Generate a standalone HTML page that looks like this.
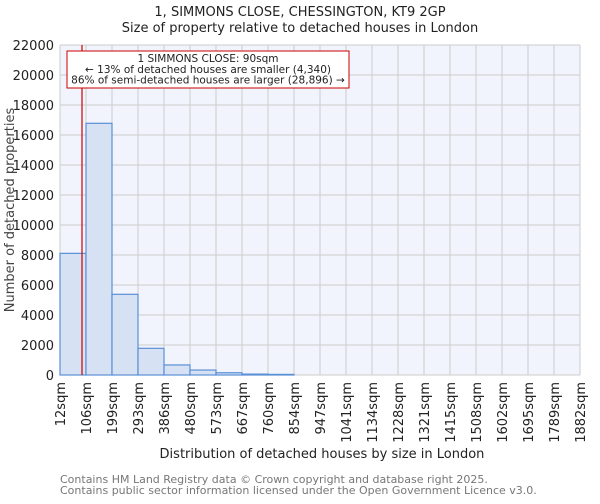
<!DOCTYPE html>
<html><head><meta charset="utf-8"><style>
body{margin:0;background:#fff;font-family:"DejaVu Sans","Liberation Sans",sans-serif;}
svg text{font-family:"DejaVu Sans","Liberation Sans",sans-serif;}
</style></head><body>
<svg id="chart" width="600" height="500" xmlns="http://www.w3.org/2000/svg">
<text x="300" y="16" text-anchor="middle" font-size="13" fill="#222">1, SIMMONS CLOSE, CHESSINGTON, KT9 2GP</text>
<text x="300" y="32" text-anchor="middle" font-size="13" fill="#222">Size of property relative to detached houses in London</text>
<rect x="60" y="45" width="520" height="330" fill="#f1f4fc"/>
<g id="grid"></g><g id="bars"></g><g id="axes"></g>
<line x1="82" y1="45" x2="82" y2="375" stroke="#cc0000" stroke-width="1.2"/>
<rect x="67" y="51" width="282" height="37" fill="#fff" stroke="#cc0000" stroke-width="1"/>
<text x="208" y="62" text-anchor="middle" font-size="10.5" fill="#222">1 SIMMONS CLOSE: 90sqm</text>
<text x="208" y="73" text-anchor="middle" font-size="10.5" fill="#222">← 13% of detached houses are smaller (4,340)</text>
<text x="208" y="83.5" text-anchor="middle" font-size="10.5" fill="#222">86% of semi-detached houses are larger (28,896) →</text>
<text transform="translate(14,210) rotate(-90)" text-anchor="middle" font-size="13" fill="#444">Number of detached properties</text>
<text x="322" y="458" text-anchor="middle" font-size="13" fill="#222">Distribution of detached houses by size in London</text>
<text x="60" y="483" font-size="11" fill="#777">Contains HM Land Registry data © Crown copyright and database right 2025.</text>
<text x="60" y="494" font-size="11" fill="#777">Contains public sector information licensed under the Open Government Licence v3.0.</text>
</svg>
<script>
const categories=["12sqm","106sqm","199sqm","293sqm","386sqm","480sqm","573sqm","667sqm","760sqm","854sqm","947sqm","1041sqm","1134sqm","1228sqm","1321sqm","1415sqm","1508sqm","1602sqm","1695sqm","1789sqm","1882sqm"];
const counts=[8110,16780,5380,1780,670,330,150,60,40,0,0,0,0,0,0,0,0,0,0,0];
const yTicks=[0,2000,4000,6000,8000,10000,12000,14000,16000,18000,20000,22000];
const NS="http://www.w3.org/2000/svg";
const x0=60,x1=580,y0=375,y1=45,yMax=22000;
const bw=(x1-x0)/(categories.length-1);
const xs=i=>x0+i*bw;
const ys=v=>y0-(v/yMax)*(y0-y1);
function mk(tag,attrs,parent){const e=document.createElementNS(NS,tag);for(const k in attrs)e.setAttribute(k,attrs[k]);document.getElementById(parent).appendChild(e);return e;}
yTicks.forEach(t=>{
 const g=mk('line',{x1:x0,x2:x1,y1:ys(t),y2:ys(t),stroke:'#ccc','stroke-width':1},'grid');
 
 
 const l=mk('text',{x:x0-6,y:ys(t)+5,'text-anchor':'end','font-size':13,fill:'#222'},'axes');
 l.textContent=t;
 
 
});
categories.forEach((c,i)=>{
 const g=mk('line',{x1:xs(i),x2:xs(i),y1:y1,y2:y0,stroke:'#ccc','stroke-width':1},'grid');
 
 
 const l=mk('text',{transform:`translate(${xs(i)+5},${y0+7}) rotate(-90)`,'text-anchor':'end','font-size':13,fill:'#222'},'axes');
 l.textContent=c;
 
 
});
counts.forEach((v,i)=>{
 const r=mk('rect',{x:xs(i),y:ys(v),width:bw,height:y0-ys(v),fill:'#d6e1f3',stroke:'#5b8fd6','stroke-width':1.2},'bars');
 
 
});
</script>
</body></html>
